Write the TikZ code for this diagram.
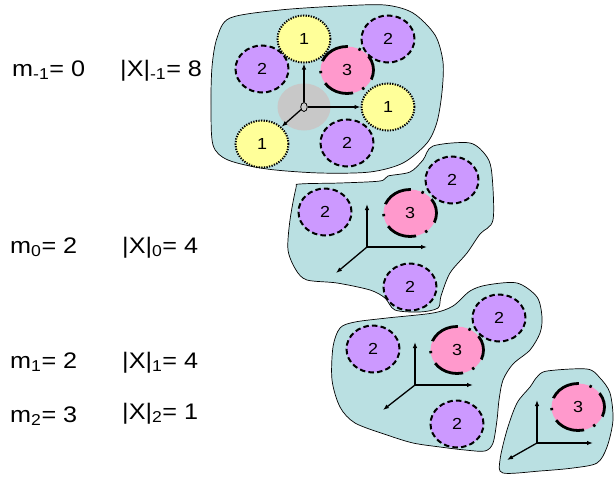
\documentclass[tikz,border=0pt]{standalone}
\usepackage{fontspec}
\setmainfont[FakeStretch=1.12]{Liberation Sans}
\usetikzlibrary{shapes.geometric,arrows.meta}
\definecolor{blobc}{HTML}{BAE0E2}
\definecolor{yellowc}{HTML}{FFFF99}
\definecolor{purplec}{HTML}{CC99FF}
\definecolor{pinkc}{HTML}{FF99CC}
\definecolor{grayc}{HTML}{C8C8C8}
\begin{document}
\begin{tikzpicture}[x=1pt,y=-1pt,
  blob/.style={draw=black,line width=0.7pt,fill=blobc},
  ball/.style={ellipse,minimum width=53pt,minimum height=47pt,inner sep=0pt,font=\fontsize{16}{18}\selectfont},
  one/.style={ball,fill=yellowc,draw=black,line width=2pt,dash pattern=on 1.3pt off 1.3pt},
  two/.style={ball,fill=purplec,draw=black,line width=2pt,dash pattern=on 5.5pt off 3.2pt},
  three/.style={ball,fill=pinkc,draw=black,line width=2.8pt,dash pattern=on 31pt off 10pt on 2.4pt off 11pt,dash phase=16pt},
  axis/.style={line width=1.3pt,-{Latex[length=6pt,width=4.5pt]}},
  lbl/.style={anchor=base west,inner sep=0pt,font=\fontsize{22.5}{26}\selectfont}]
\useasboundingbox (0,0) rectangle (616,477);

% blobs
\draw[blob] plot[smooth cycle,tension=0.5] coordinates {(230,18) (280,10) (340,6) (385,5) (413,13) (435,35) (443,62) (442,92) (437,122) (427,143) (403,163) (370,172) (320,173) (267,169) (228,160) (213,145) (211,105) (212,67) (217,38)};
\draw[blob] plot[smooth cycle,tension=0.5] coordinates {(300,184) (340,183) (380,181) (388,176) (410,172) (423,160) (433,146) (470,143) (487,157) (492,175) (493,220) (480,234) (467,253) (450,273) (441,296) (438,308) (420,312) (395,310) (385,298) (370,290) (337,283) (307,280) (296,270) (288,250) (290,220) (296,188)};
\draw[blob] plot[smooth cycle,tension=0.5] coordinates {(340,328) (355,322) (387,318) (433,313) (453,306) (470,291) (487,285) (517,283) (537,297) (542,317) (540,333) (530,350) (513,364) (503,380) (499,400) (497,420) (493,443) (485,451) (465,450) (440,447) (413,443) (387,435) (355,423) (340,407) (332,380) (333,347)};
\draw[blob] plot[smooth cycle,tension=0.5] coordinates {(537,377) (547,371) (587,369) (600,378) (610,393) (613,420) (607,447) (597,463) (573,468) (540,471) (503,473) (500,460) (507,430) (517,403) (530,387)};

% blob 1
\node[ball,fill=grayc] (g) at (304,107) {};
\node[two] (a2l) at (262,69) {2};
\node[two] (a2r) at (388,39) {2};
\node[two] (a2b) at (347,143) {2};
\node[one] (a1t) at (304,39) {1};
\node[one] (a1r) at (388,107) {1};
\node[one] (a1b) at (262,144) {1};
\node[three] (a3) at (347,70) {3};
\node[ellipse,draw=black,line width=0.8pt,minimum width=6.5pt,minimum height=9pt,inner sep=0pt] (ao) at (304,107) {};
\draw[axis] (ao) -- (a1t);
\draw[axis] (ao) -- (a1r);
\draw[axis] (ao) -- (a1b);

% blob 2
\node[two] (b2l) at (325,212) {2};
\node[two] (b2r) at (452,180) {2};
\node[two] (b2b) at (410,287) {2};
\node[three] (b3) at (410,213) {3};
\coordinate (bo) at (367,247);
\coordinate (bu) at (367,204);
\coordinate (br) at (427,247);
\coordinate (bd) at (336,273);
\draw[axis] (bo) -- (bu);
\draw[axis] (bo) -- (br);
\draw[axis] (bo) -- (bd);

% blob 3
\node[two] (c2l) at (373,349) {2};
\node[two] (c2r) at (499,318) {2};
\node[two] (c2b) at (457,424) {2};
\node[three] (c3) at (457,350) {3};
\coordinate (co) at (415,385);
\coordinate (cu) at (415,342);
\coordinate (cr) at (473,385);
\coordinate (cd) at (383,410);
\draw[axis] (co) -- (cu);
\draw[axis] (co) -- (cr);
\draw[axis] (co) -- (cd);

% blob 4
\node[three] (d3) at (578,407) {3};
\coordinate (do) at (537,443);
\coordinate (du) at (537,400);
\coordinate (dr) at (593,443);
\coordinate (dd) at (507,460);
\draw[axis] (do) -- (du);
\draw[axis] (do) -- (dr);
\draw[axis] (do) -- (dd);

% labels
\node[lbl] (m0) at (12,76) {m\textsubscript{-1}= 0};
\node[lbl] (x0) at (120,76) {|X|\textsubscript{-1}= 8};
\node[lbl] (m1) at (10,253) {m\textsubscript{0}= 2};
\node[lbl] (x1) at (122,253) {|X|\textsubscript{0}= 4};
\node[lbl] (m2) at (10,368) {m\textsubscript{1}= 2};
\node[lbl] (x2) at (122,368) {|X|\textsubscript{1}= 4};
\node[lbl] (m3) at (10,422) {m\textsubscript{2}= 3};
\node[lbl] (x3) at (122,419) {|X|\textsubscript{2}= 1};
\end{tikzpicture}
\end{document}
